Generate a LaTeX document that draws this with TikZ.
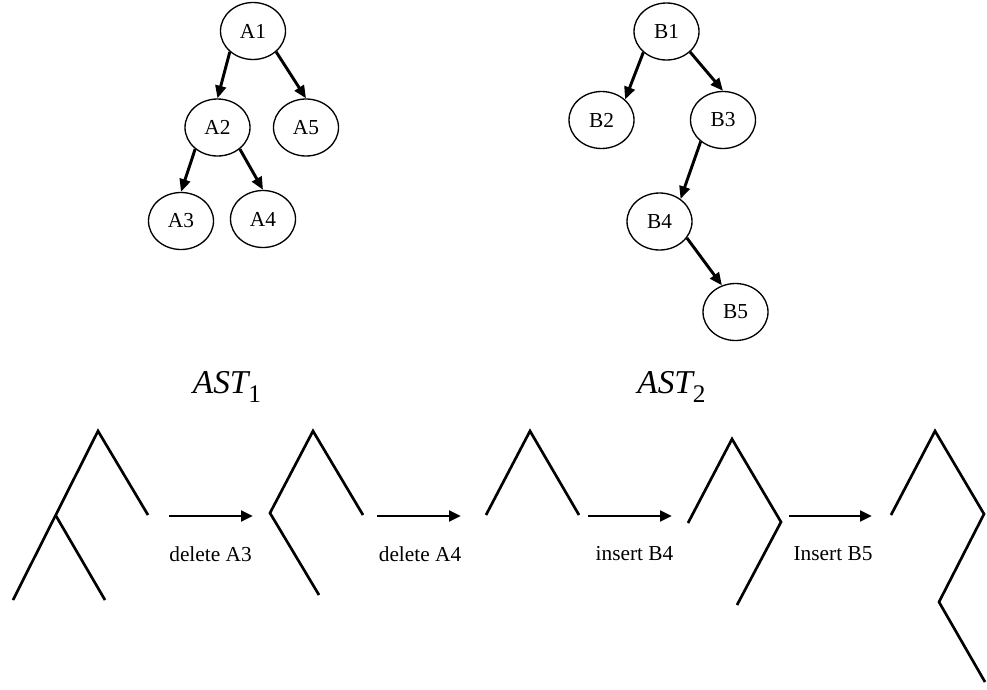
\documentclass[tikz,border=0pt]{standalone}
\usepackage{fontspec}
\setmainfont{Liberation Serif}
\usetikzlibrary{shapes.geometric,arrows.meta}
% tree name with an upright, lowered index
\newcommand\astname[1]{{\itshape AST}\raisebox{-7pt}{\fontsize{19}{21}\selectfont #1}}
\begin{document}
\begin{tikzpicture}[x=0.75pt,y=-0.75pt,
  treenode/.style={ellipse,draw,line width=1pt,minimum width=48.75pt,
    minimum height=42.75pt,inner sep=0pt,font=\fontsize{16}{19}\selectfont},
  edge/.style={line width=2.2pt,-{Triangle[length=9.5pt,width=8pt]}},
  branch/.style={line width=2pt},
  opedge/.style={line width=2.2pt,-{Triangle[length=9pt,width=8pt]}},
  oplabel/.style={font=\fontsize{16}{19}\selectfont,anchor=base,inner sep=0pt},
  title/.style={font=\fontsize{25}{30}\selectfont,anchor=base,inner sep=0pt}]
\useasboundingbox (0,0) rectangle (987,689);

% first tree
\node[treenode] (A1) at (253,31) {A1};
\node[treenode] (A2) at (217.5,127.5) {A2};
\node[treenode] (A5) at (306,127.5) {A5};
\node[treenode] (A3) at (181,221) {A3};
\node[treenode] (A4) at (263,219) {A4};
\draw[edge] (A1.222) -- (A2.north);
\draw[edge] (A1.318) -- (A5.north);
\draw[edge] (A2.224) -- (A3.north);
\draw[edge] (A2.316) -- (A4.north);

% second tree
\node[treenode] (B1) at (666.5,31.5) {B1};
\node[treenode] (B2) at (601.5,120) {B2};
\node[treenode] (B3) at (723,120) {B3};
\node[treenode] (B4) at (659.5,221.5) {B4};
\node[treenode] (B5) at (735.5,312) {B5};
\draw[edge] (B1.222) -- (B2.41);
\draw[edge] (B1.319) -- (B3.north);
\draw[edge] (B3.224) -- (B4.47);
\draw[edge] (B4.329) -- (B5.117);

% tree names
\node[title] (t1) at (227,393) {\astname{1}};
\node[title] (t2) at (671.5,393) {\astname{2}};

% edit sequence: tree outlines
\draw[branch] (13,600) -- (98,431) -- (148,515);
\draw[branch] (55.5,515) -- (105,600);
\draw[branch] (363,515) -- (313,431) -- (270,513) -- (319,595);
\draw[branch] (486,515) -- (530,431) -- (579,515);
\draw[branch] (688,523) -- (732,439) -- (781,522) -- (737,605);
\draw[branch] (891,515) -- (935,431) -- (984,514) -- (939,602) -- (985,682);

% edit operations
\coordinate (o1s) at (169,516); \coordinate (o1e) at (253,516);
\coordinate (o2s) at (377,516); \coordinate (o2e) at (461,516);
\coordinate (o3s) at (588,516); \coordinate (o3e) at (672,516);
\coordinate (o4s) at (789,516); \coordinate (o4e) at (872,516);
\draw[opedge] (o1s) -- (o1e);
\draw[opedge] (o2s) -- (o2e);
\draw[opedge] (o3s) -- (o3e);
\draw[opedge] (o4s) -- (o4e);
\node[oplabel] (l1) at (210.5,561) {delete A3};
\node[oplabel] (l2) at (420,561) {delete A4};
\node[oplabel] (l3) at (634.5,560) {insert B4};
\node[oplabel] (l4) at (833,560) {Insert B5};
\end{tikzpicture}
\end{document}
